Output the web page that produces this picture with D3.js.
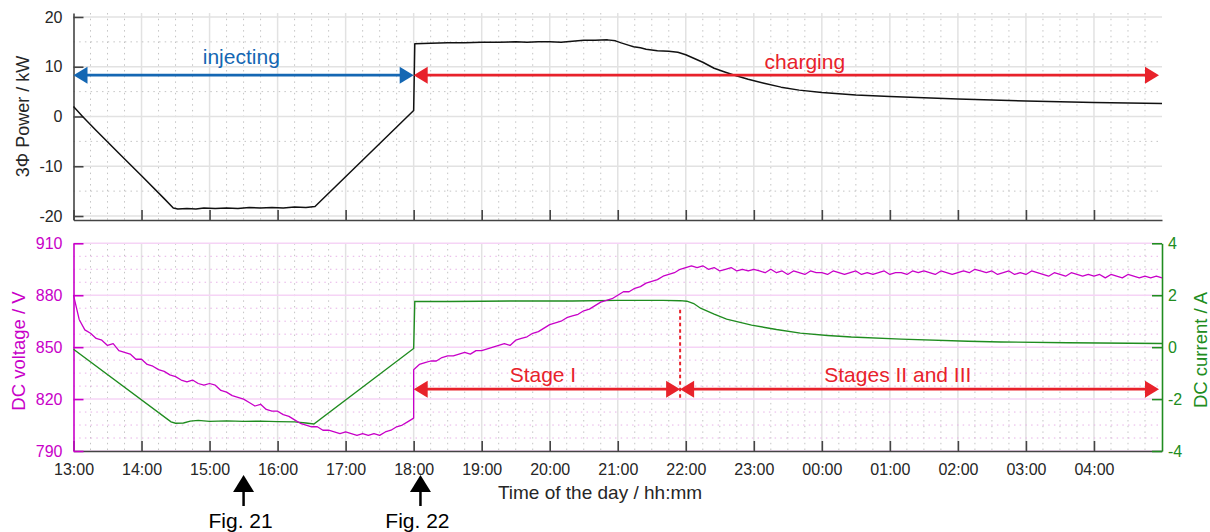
<!DOCTYPE html>
<html><head><meta charset="utf-8">
<script src="https://cdn.jsdelivr.net/npm/d3@7"></script>
<style>
body{margin:0;background:#fff;}
svg{display:block;font-family:"Liberation Sans",Arial,sans-serif;}
</style></head>
<body><svg id="c" width="1210" height="532"></svg>
<script>
// ---------- DATA (minutes after 13:00) ----------
const hourLabels = ["13:00","14:00","15:00","16:00","17:00","18:00","19:00","20:00","21:00","22:00","23:00","00:00","01:00","02:00","03:00","04:00"];
const powerTicks = [-20,-10,0,10,20];
const voltTicks = [790,820,850,880,910];
const currTicks = [-4,-2,0,2,4];

const powerMin = [0,8,20,40,60,80,88,92,100,108,115,125,135,145,155,165,175,185,195,205,213,300,
  301,315,330,345,360,375,390,400,410,420,430,440,450,460,471,478,483,490,494,500,505,515,525,533,540,544,555,565,575,583,595,609,624,640,660,690,720,780,840,900,960];
const powerKW = [2.0,0.0,-2.8,-7.4,-11.9,-16.5,-18.4,-18.6,-18.5,-18.6,-18.4,-18.5,-18.4,-18.5,-18.3,-18.4,-18.3,-18.4,-18.2,-18.3,-18.1,1.2,
  14.6,14.7,14.8,14.8,14.9,14.9,15.0,14.9,15.0,15.0,14.9,15.1,15.3,15.3,15.4,15.2,14.8,14.3,14.0,13.8,13.5,13.2,13.1,12.9,12.4,12.0,10.9,9.7,8.9,8.3,7.5,6.7,5.9,5.3,4.8,4.3,4.0,3.5,3.1,2.8,2.6];

// DC voltage sampled every 5 minutes; injecting part 13:00-18:00, charging part 18:00-05:00
const voltInjecting = [880,866,860,858,855,854,851,852,848,847,846,843,843,840,839,837,836,834,833,831,830,831,829,828,829,828,825,824,822,821,820,818,816,817,814,813,813,811,810,808,806,805,804,804,802,802,801,800,801,800,799,800,799,800,799,801,802,804,805,807,809];
const voltCharging = [837,840,841,842,842,844,845,845,846,847,846,848,848,849,850,851,852,851,854,855,856,858,859,861,863,864,865,867,868,869,871,872,874,876,877,878,880,882,882,884,885,887,888,889,891,892,893,895,896,897,896,897,895,896,894,895,896,894,895,894,895,894,893,895,893,894,892,894,893,892,894,893,893,892,894,893,892,893,894,892,893,892,893,894,892,893,893,892,894,893,894,893,892,894,893,892,893,894,893,895,894,893,894,892,893,894,892,893,892,894,893,892,891,893,892,891,893,892,891,892,891,892,890,892,891,890,892,891,890,891,890,891,890];

const currMin = [0,86,90,97,103,110,120,135,150,165,180,195,205,212,300,301,330,360,400,440,480,520,535,541,547,553,565,576,598,620,641,665,686,730,789,818,877,960];
const currA = [-0.08,-2.88,-2.93,-2.92,-2.85,-2.82,-2.86,-2.84,-2.86,-2.85,-2.87,-2.88,-2.92,-2.96,-0.05,1.76,1.76,1.77,1.78,1.78,1.80,1.80,1.79,1.77,1.68,1.50,1.27,1.08,0.85,0.68,0.54,0.45,0.39,0.31,0.23,0.20,0.17,0.14];

// annotations (minutes after 13:00)
const phaseNames = ["injecting","charging"];
const phaseStart = [0,300], phaseEnd = [300,960], phaseLevel = 8.3;
const phaseLabelMin = [148,645];
const stageNames = ["Stage I","Stages II and III"];
const stageStart = [300,535], stageEnd = [535,960], stageLevel = -1.62;
const stageLabelMin = [414,727];
const figNames = ["Fig. 21","Fig. 22"];
const figMin = [150,306];

// ---------- SETUP ----------
const svg = d3.select("#c");
svg.append("rect").attr("width",1210).attr("height",532).attr("fill","#fff");
const t0 = new Date(2020,0,1,13,0).getTime();
const toDate = m => new Date(t0 + m*60000);
const x = d3.scaleTime().domain([toDate(0),toDate(960)]).range([73.5,1162]);
const yP = d3.scaleLinear().domain([-20.8,20.8]).range([220,13]);
const yV = d3.scaleLinear().domain([790,910]).range([451,243.3]);
const yI = d3.scaleLinear().domain([-4,4]).range([451,243.3]);

const RED="#e8222b", BLUE="#1467b3", MAG="#c800c8", GRN="#208c20", AX="#444";
const hourMins = d3.range(0,960,60);
const minorMins = d3.range(15,960,15).filter(m=>m%60!==0);

function grid(top,bottom,yScale,major,minor,hColMaj,hColMin){
  const g = svg.append("g");
  g.selectAll(null).data(minorMins).join("line")
    .attr("x1",d=>x(toDate(d))).attr("x2",d=>x(toDate(d))).attr("y1",top).attr("y2",bottom)
    .attr("stroke","#c4c4c4").attr("stroke-width",1).attr("stroke-dasharray","1.5,4.2");
  g.selectAll(null).data(hourMins.slice(1)).join("line")
    .attr("x1",d=>x(toDate(d))).attr("x2",d=>x(toDate(d))).attr("y1",top).attr("y2",bottom)
    .attr("stroke","#e2e2e2").attr("stroke-width",1.5);
  g.selectAll(null).data(minor).join("line")
    .attr("x1",73.5).attr("x2",1162).attr("y1",d=>yScale(d)).attr("y2",d=>yScale(d))
    .attr("stroke",hColMin).attr("stroke-width",1).attr("stroke-dasharray","1.5,4.2");
  g.selectAll(null).data(major).join("line")
    .attr("x1",73.5).attr("x2",1162).attr("y1",d=>yScale(d)).attr("y2",d=>yScale(d))
    .attr("stroke",hColMaj).attr("stroke-width",1.5);
}
grid(13,220,yP,powerTicks,[-15,-5,5,15],"#e2e2e2","#c4c4c4");
const vMinor = d3.range(797.5,910,7.5).filter(v=>(v-790)%30!==0);
grid(243.3,451,yV,voltTicks,vMinor,"#f6d4f6","#e7b2e7");

// ---------- AXES ----------
function styleAxis(g,color,textColor){
  g.selectAll("path.domain").attr("stroke",color).attr("stroke-width",1.6);
  g.selectAll(".tick line").attr("stroke",color).attr("stroke-width",1.6);
  g.selectAll("text").attr("fill",textColor).style("font-size","16px").style("font-family","Liberation Sans, Arial, sans-serif");
}
const hourDates = hourMins.map(toDate);
const plain = d => String(d);
styleAxis(svg.append("g").attr("transform","translate(0,220)")
  .call(d3.axisBottom(x).tickValues(hourDates).tickSizeInner(-10).tickSizeOuter(0).tickFormat("")),AX,"#222");
styleAxis(svg.append("g").attr("transform","translate(73.5,0)")
  .call(d3.axisLeft(yP).tickValues(powerTicks).tickSizeInner(-10).tickSizeOuter(0).tickPadding(11).tickFormat(plain)),AX,"#262626");
styleAxis(svg.append("g").attr("transform","translate(0,451)")
  .call(d3.axisBottom(x).tickValues(hourDates).tickSizeInner(-10).tickSizeOuter(0).tickPadding(12.6)
  .tickFormat((d,i)=>hourLabels[i])),AX,"#262626");
styleAxis(svg.append("g").attr("transform","translate(73.5,0)")
  .call(d3.axisLeft(yV).tickValues(voltTicks).tickSizeInner(-10).tickSizeOuter(0).tickPadding(11).tickFormat(plain)),MAG,MAG);
styleAxis(svg.append("g").attr("transform","translate(1162,0)")
  .call(d3.axisRight(yI).tickValues(currTicks).tickSizeInner(-10).tickSizeOuter(0).tickPadding(6).tickFormat(plain)),GRN,GRN);

// axis titles
svg.append("text").attr("transform","translate(29,116.5) rotate(-90)").attr("text-anchor","middle")
  .attr("fill","#262626").style("font-size","18px").text("3Φ Power / kW");
svg.append("text").attr("transform","translate(25,351) rotate(-90)").attr("text-anchor","middle")
  .attr("fill",MAG).style("font-size","18.5px").text("DC voltage / V");
svg.append("text").attr("transform","translate(1207,350) rotate(-90)").attr("text-anchor","middle")
  .attr("fill",GRN).style("font-size","18.5px").text("DC current / A");
svg.append("text").attr("x",600).attr("y",499).attr("text-anchor","middle")
  .attr("fill","#262626").style("font-size","19px").text("Time of the day / hh:mm");

// ---------- LINES ----------
const powerData = powerMin.map((m,i)=>({m,v:powerKW[i]}));
const voltData = voltInjecting.map((v,i)=>({m:i*5,v})).concat(voltCharging.map((v,i)=>({m:300+i*5,v})));
const currData = currMin.map((m,i)=>({m,v:currA[i]}));
svg.append("path").datum(powerData).attr("fill","none").attr("stroke","#111").attr("stroke-width",1.5)
  .attr("stroke-linejoin","round")
  .attr("d",d3.line().x(d=>x(toDate(d.m))).y(d=>yP(d.v)));
svg.append("path").datum(currData).attr("fill","none").attr("stroke",GRN).attr("stroke-width",1.4)
  .attr("d",d3.line().x(d=>x(toDate(d.m))).y(d=>yI(d.v)));
svg.append("path").datum(voltData).attr("fill","none").attr("stroke",MAG).attr("stroke-width",1.3)
  .attr("stroke-linejoin","round")
  .attr("d",d3.line().x(d=>x(toDate(d.m))).y(d=>yV(d.v)));

// ---------- ANNOTATIONS ----------
function dblArrow(x1,x2,y,color){
  const g = svg.append("g");
  const L=14, H=8.5;
  g.append("line").attr("x1",x1+4).attr("x2",x2-4).attr("y1",y).attr("y2",y).attr("stroke",color).attr("stroke-width",2.8);
  g.append("path").attr("d",`M${x1},${y}L${x1+L},${y-H}L${x1+L},${y+H}Z`).attr("fill",color);
  g.append("path").attr("d",`M${x2},${y}L${x2-L},${y-H}L${x2-L},${y+H}Z`).attr("fill",color);
}
const phaseColors=[BLUE,RED], phaseTextY=[64,69];
phaseNames.forEach((n,i)=>{
  const a=x(toDate(phaseStart[i])), b=x(toDate(phaseEnd[i]))-(i===1?3:0);
  dblArrow(a,b,yP(phaseLevel),phaseColors[i]);
  svg.append("text").attr("x",x(toDate(phaseLabelMin[i]))).attr("y",phaseTextY[i]).attr("text-anchor","middle")
    .attr("fill",phaseColors[i]).style("font-size","21px").text(n);
});
stageNames.forEach((n,i)=>{
  const a=x(toDate(stageStart[i])), b=x(toDate(stageEnd[i]))-(i===1?3:0);
  dblArrow(a,b,yI(stageLevel),RED);
  svg.append("text").attr("x",x(toDate(stageLabelMin[i]))).attr("y",382).attr("text-anchor","middle")
    .attr("fill",RED).style("font-size","21px").text(n);
});
svg.append("line").attr("x1",x(toDate(535))).attr("x2",x(toDate(535)))
  .attr("y1",yI(1.44)).attr("y2",yI(-1.95)).attr("stroke",RED).attr("stroke-width",2).attr("stroke-dasharray","3.5,3");

figNames.forEach((n,i)=>{
  const fx = x(toDate(figMin[i]));
  svg.append("path").attr("d",`M${fx},475L${fx-10.5},492L${fx+10.5},492Z`).attr("fill","#000");
  svg.append("line").attr("x1",fx).attr("x2",fx).attr("y1",490).attr("y2",506).attr("stroke","#000").attr("stroke-width",2.5);
  svg.append("text").attr("x",fx-3).attr("y",528).attr("text-anchor","middle").attr("fill","#000")
    .style("font-size","21px").text(n);
});
</script></body></html>
